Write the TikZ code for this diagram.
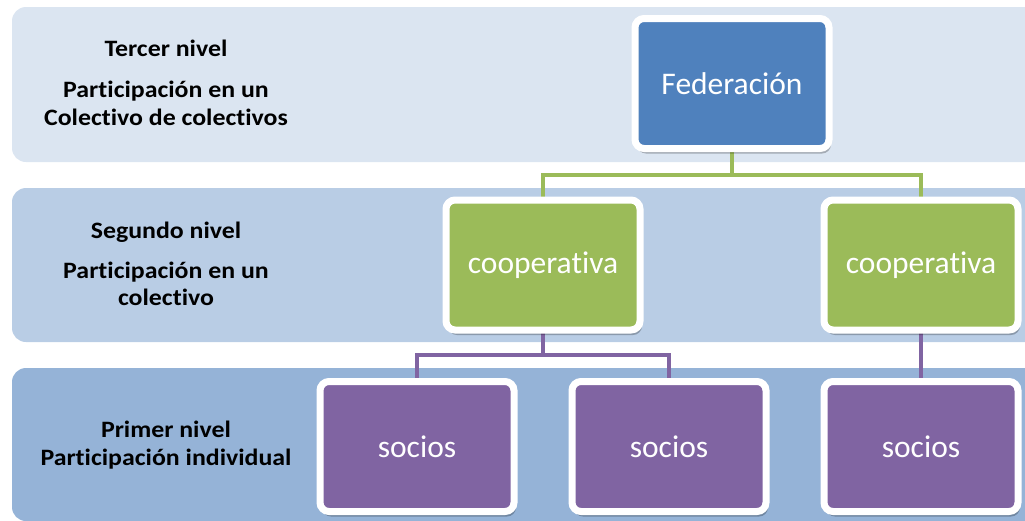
\documentclass[tikz,border=0pt]{standalone}
\usepackage{fontspec}
\setmainfont{Carlito}[Ligatures=NoCommon]
\newfontfamily\etiqueta{Carlito}[Ligatures=NoCommon,FakeStretch=1.1]
\usetikzlibrary{shadows,backgrounds}
\definecolor{bandaA}{HTML}{DBE5F1}
\definecolor{bandaB}{HTML}{B9CDE5}
\definecolor{bandaC}{HTML}{95B3D7}
\definecolor{azul}{HTML}{4F81BD}
\definecolor{verde}{HTML}{9BBB59}
\definecolor{morado}{HTML}{8064A2}

\begin{document}
\begin{tikzpicture}[
		x=1pt,y=-1pt,
		banda/.style={rounded corners=14pt},
		nivel/.style={align=center,font=\etiqueta\fontsize{23.5}{27.5}\selectfont\bfseries},
		caja/.style={draw=white,line width=7pt,rounded corners=9pt,
			minimum width=194pt,minimum height=130pt,text=white,
			font=\fontsize{31.5}{36}\selectfont,
			drop shadow={shadow xshift=2pt,shadow yshift=-5pt,opacity=0.25,fill=black}},
		con/.style={line width=4pt}
	]
		\useasboundingbox (0,0) rectangle (1025,520);

		% niveles
		\node[nivel] (n3) at (166,82.5) {Tercer nivel\\[14pt]Participación en un\\Colectivo de colectivos};
		\node[nivel] (n2) at (166,264) {Segundo nivel\\[12pt]Participación en un\\colectivo};
		\node[nivel] (n1) at (166,445) {Primer nivel\\Participación individual};

		% cajas
		\node[caja,fill=azul] (fed) at (732,83.5) {Federación};
		\node[caja,fill=verde] (coopA) at (543,265) {cooperativa};
		\node[caja,fill=verde] (coopB) at (921,265) {cooperativa};
		\node[caja,fill=morado] (socA) at (417,446.5) {socios};
		\node[caja,fill=morado] (socB) at (669,446.5) {socios};
		\node[caja,fill=morado] (socC) at (921,446.5) {socios};

		\coordinate (ramaV) at (732,175);
		\coordinate (ramaM) at (543,355);

		\begin{scope}[on background layer]
			\fill[bandaA,banda] (12,7) rectangle (1050,162);
			\fill[bandaB,banda] (12,188) rectangle (1050,342);
			\fill[bandaC,banda] (12,368) rectangle (1050,521);

			\draw[con,verde] (fed.center) -- (ramaV);
			\draw[con,verde] (coopA.center) |- (ramaV) -| (coopB.center);
			\draw[con,morado] (coopA.center) -- (ramaM);
			\draw[con,morado] (socA.center) |- (ramaM) -| (socB.center);
			\draw[con,morado] (coopB.center) -- (socC.center);
		\end{scope}
	\end{tikzpicture}
\end{document}
